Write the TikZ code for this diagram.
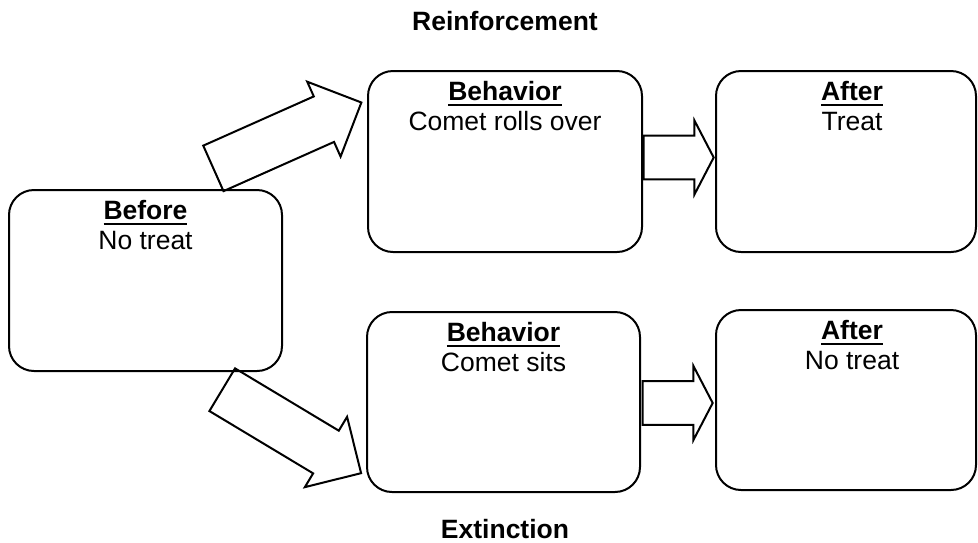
\documentclass[tikz,border=0pt]{standalone}
\usepackage{fontspec}
\setmainfont{Liberation Sans}
\usetikzlibrary{shapes.arrows,positioning,calc}

% bold word with a thick underline
\newcommand{\headword}[1]{\setbox0\hbox{\textbf{#1}}\rlap{\rule[-2.6pt]{\wd0}{0.9pt}}\box0}

\begin{document}
\begin{tikzpicture}[
		x=0.5pt, y=-0.5pt,
		every node/.style={font=\fontsize{13.25}{15}\selectfont},
		stagebox/.style={draw, line width=1pt, rounded corners=12.5pt, minimum height=90.5pt},
		boxtext/.style={inner sep=0pt, align=center},
		bigarrow/.style={single arrow, draw, line width=1pt, inner xsep=0pt, inner ysep=10.5pt,
			minimum width=41pt, minimum height=81pt},
		smallarrow/.style={single arrow, draw, line width=1pt, inner xsep=0pt, inner ysep=9.75pt,
			minimum width=37pt, minimum height=35pt, single arrow tip angle=125},
		heading/.style={anchor=base, inner sep=0pt, font=\fontsize{13.25}{15}\selectfont\bfseries}
		]
		\useasboundingbox (0,0) rectangle (978,542);
		% Titles
		\node[heading] (reinf) at (505,30) {Reinforcement};
		\node[heading] (ext) at (505,538) {Extinction};
		% Stage boxes
		\node[stagebox, minimum width=136.5pt] (before) at (145.5,280.5) {};
		\node[stagebox, minimum width=137pt] (beh1) at (505,161.5) {};
		\node[stagebox, minimum width=130pt] (aft1) at (846,161.5) {};
		\node[stagebox, minimum width=136.5pt, minimum height=90pt] (beh2) at (503.5,402) {};
		\node[stagebox, minimum width=130pt, minimum height=90pt] (aft2) at (846,400) {};
		% Box texts
		\node[boxtext, below=5.5pt of before.north] (beforetxt) {\headword{Before}\\No treat};
		\node[boxtext, below=5.5pt of beh1.north] (beh1txt) {\headword{Behavior}\\Comet rolls over};
		\node[boxtext, below=5.5pt of aft1.north, xshift=3pt] (aft1txt) {\headword{After}\\Treat};
		\node[boxtext, below=5.5pt of beh2.north] (beh2txt) {\headword{Behavior}\\Comet sits};
		\node[boxtext, below=5.5pt of aft2.north, xshift=3pt] (aft2txt) {\headword{After}\\No treat};
		% Block arrows
		\node[bigarrow, rotate=24] (toreinf) at (276,140.5) {};
		\node[bigarrow, rotate=-31] (toext) at (281,425) {};
		\node[smallarrow] (reinfout) at ($(beh1.east)+(30,-4)$) {};
		\node[smallarrow] (extout) at ($(beh2.east)+(31,1)$) {};
	\end{tikzpicture}
\end{document}
